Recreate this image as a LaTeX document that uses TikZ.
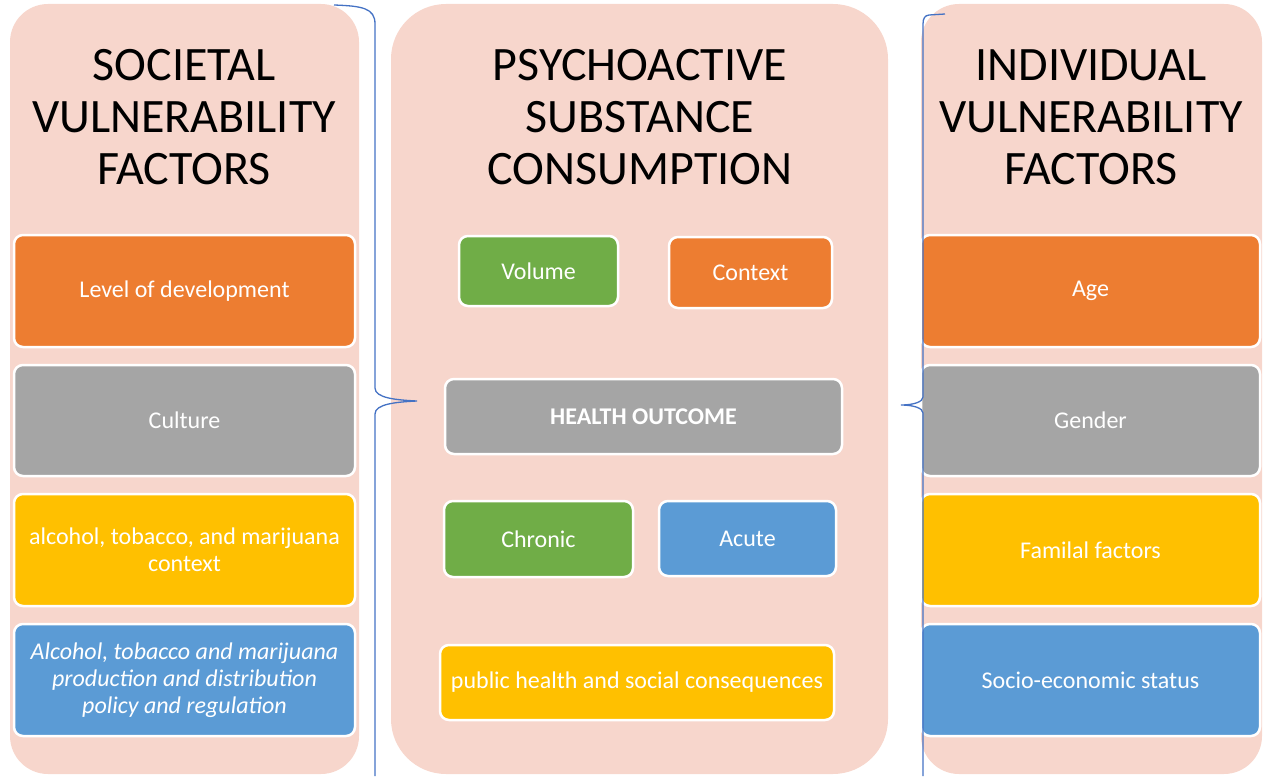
\documentclass[tikz,border=0pt]{standalone}
\usepackage{fontspec}
\setmainfont{Carlito}
\definecolor{panelbg}{HTML}{F7D6CC}
\definecolor{cOrange}{HTML}{ED7D31}
\definecolor{cGray}{HTML}{A5A5A5}
\definecolor{cYellow}{HTML}{FFC000}
\definecolor{cBlue}{HTML}{5B9BD5}
\definecolor{cGreen}{HTML}{70AD47}
\definecolor{braceblue}{HTML}{4472C4}
\tikzset{
  panel/.style={fill=panelbg, draw=none},
  title/.style={anchor=north, align=center, inner sep=0pt,
    font=\fontsize{48}{52}\selectfont},
  box/.style={draw=white, line width=2.5pt, rounded corners=9pt,
    text=white, align=center, inner sep=4pt,
    font=\fontsize{24}{27}\selectfont},
  brace/.style={draw=braceblue, line width=1.3pt},
}
\begin{document}
\begin{tikzpicture}[x=1pt,y=-1pt]
\useasboundingbox (0,0) rectangle (1271,776);

% column panels
\fill[panel, rounded corners=38pt] (10,4) rectangle (359,774);
\fill[panel, rounded corners=55pt] (391,4) rectangle (888,774);
\fill[panel, rounded corners=38pt] (921,4) rectangle (1262,774);

% column headings
\node[title] (tleft) at (184,49.5) {SOCIETAL\\VULNERABILITY\\FACTORS};
\node[title] (tmid) at (640,49.5) {PSYCHOACTIVE\\SUBSTANCE\\CONSUMPTION};
\node[title] (tright) at (1091,49.5) {INDIVIDUAL\\VULNERABILITY\\FACTORS};

% societal factors
\node[box, fill=cOrange, minimum width=341pt, minimum height=112pt] (dev) at (184.5,291) {Level of development};
\node[box, fill=cGray, minimum width=341pt, minimum height=111pt] (cult) at (184.5,420.5) {Culture};
\node[box, fill=cYellow, minimum width=341pt, minimum height=112pt] (atm) at (184.5,550) {alcohol, tobacco, and marijuana\\context};
\node[box, fill=cBlue, minimum width=341pt, minimum height=112pt] (pol) at (184.5,680) {\itshape Alcohol, tobacco and marijuana\\\itshape production and distribution\\\itshape policy and regulation};

% consumption and outcomes
\node[box, fill=cGreen, minimum width=159pt, minimum height=70pt] (vol) at (538.5,271) {Volume};
\node[box, fill=cOrange, minimum width=163pt, minimum height=71pt] (ctx) at (750.5,272.5) {Context};
\node[box, fill=cGray, minimum width=397pt, minimum height=75pt] (ho) at (643.5,416.5) {\bfseries HEALTH OUTCOME};
\node[box, fill=cGreen, minimum width=189pt, minimum height=76pt] (chr) at (538.5,539) {Chronic};
\node[box, fill=cBlue, minimum width=177pt, minimum height=75pt] (acu) at (747.5,538.5) {Acute};
\node[box, fill=cYellow, minimum width=394pt, minimum height=75pt] (phs) at (637,682.5) {public health and social consequences};

% individual factors
\node[box, fill=cOrange, minimum width=339pt, minimum height=112pt] (age) at (1090.5,291) {Age};
\node[box, fill=cGray, minimum width=339pt, minimum height=111pt] (gen) at (1090.5,420.5) {Gender};
\node[box, fill=cYellow, minimum width=339pt, minimum height=112pt] (fam) at (1090.5,550) {Familal factors};
\node[box, fill=cBlue, minimum width=339pt, minimum height=112pt] (ses) at (1090.5,680) {Socio-economic status};

% braces gathering each side column towards the centre
\coordinate (lbtop) at (334,5);
\coordinate (lbtip) at (417,401);
\coordinate (lbend) at (375,776);
\draw[brace] (lbtop) .. controls (362,6) and (375,8) .. (375,24) -- (375,388)
  .. controls (375,398) and (396,400) .. (lbtip)
  .. controls (396,402) and (375,404) .. (375,414) -- (lbend);

\coordinate (rbtop) at (945,14);
\coordinate (rbtip) at (901,405);
\coordinate (rbend) at (923,776);
\draw[brace] (rbtop) -- (929,15) .. controls (925,15.5) and (923,18) .. (923,24) -- (923,397)
  .. controls (923,402) and (913,405) .. (rbtip)
  .. controls (913,405) and (923,408) .. (923,413) -- (rbend);
\end{tikzpicture}
\end{document}
